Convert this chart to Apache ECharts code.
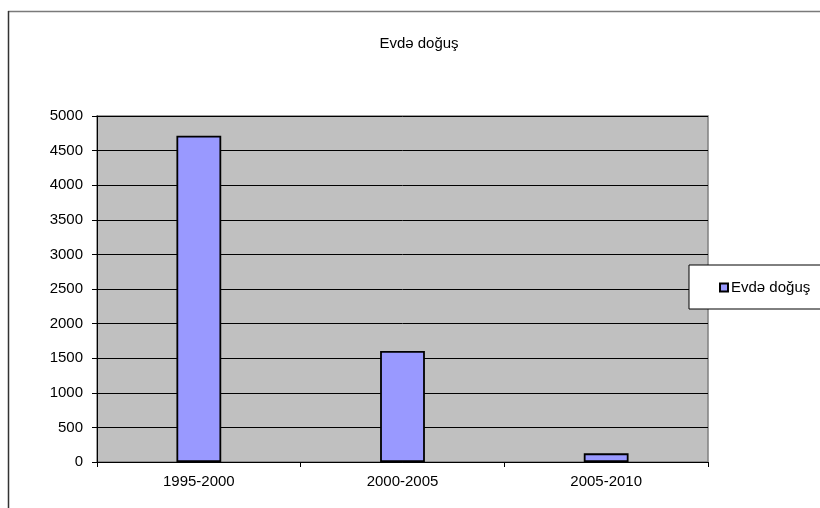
<!DOCTYPE html>
<html>
<head>
<meta charset="utf-8">
<style>
  html, body { margin: 0; padding: 0; background: #ffffff; }
  #chart { width: 820px; height: 508px; }
</style>
<script src="https://cdn.jsdelivr.net/npm/echarts@6/dist/echarts.min.js"></script>
</head>
<body>
<div id="chart"></div>
<script>
// Home births by period
var categories = ['1995-2000', '2000-2005', '2005-2010'];
var homeBirths = [4715, 1605, 125];
var seriesName = 'Evdə doğuş';
var chartTitle = 'Evdə doğuş';

var FONT = '"Liberation Sans", Arial, sans-serif';

var chart = echarts.init(document.getElementById('chart'), null, { renderer: 'canvas' });

chart.setOption({
  animation: false,
  backgroundColor: '#ffffff',
  textStyle: { fontFamily: FONT, color: '#000' },
  title: {
    text: chartTitle,
    left: 414,
    textAlign: 'center',
    top: 31,
    textStyle: { fontSize: 15, fontWeight: 'normal', color: '#000', fontFamily: FONT }
  },
  graphic: [
    { type: 'line', shape: { x1: 8, y1: 11.5, x2: 830, y2: 11.5 }, style: { stroke: '#7a7a7a', lineWidth: 1.5 }, silent: true },
    { type: 'line', shape: { x1: 8.5, y1: 11, x2: 8.5, y2: 520 }, style: { stroke: '#333333', lineWidth: 1.5 }, silent: true }
  ],
  legend: {
    orient: 'vertical',
    left: 689,
    top: 265,
    padding: [15, 60, 14, 30],
    backgroundColor: '#ffffff',
    borderColor: '#000000',
    borderWidth: 1,
    itemWidth: 8,
    itemHeight: 8,
    itemGap: 4,
    icon: 'rect',
    textStyle: { fontSize: 15, color: '#000', fontFamily: FONT, padding: [0, 0, 0, -2] },
    data: [seriesName]
  },
  grid: {
    left: 97,
    top: 116,
    right: 112,
    bottom: 46,
    show: true,
    backgroundColor: '#C0C0C0',
    borderColor: '#808080',
    borderWidth: 1.5
  },
  xAxis: {
    type: 'category',
    data: categories,
    boundaryGap: true,
    axisLine: { show: true, lineStyle: { color: '#000', width: 1 } },
    axisTick: { show: true, alignWithLabel: false, length: 5, lineStyle: { color: '#000' } },
    axisLabel: { margin: 12, fontSize: 15, color: '#000', fontFamily: FONT },
    splitLine: { show: false }
  },
  yAxis: {
    type: 'value',
    min: 0,
    max: 5000,
    interval: 500,
    axisLine: { show: true, lineStyle: { color: '#000', width: 1 } },
    axisTick: { show: true, length: 5, lineStyle: { color: '#000' } },
    axisLabel: {
      margin: 14, fontSize: 15, color: '#000', fontFamily: FONT,
      formatter: function (v) { return String(v); }
    },
    splitLine: { show: true, lineStyle: { color: '#000', width: 1 } }
  },
  series: [{
    name: seriesName,
    type: 'bar',
    data: homeBirths,
    barWidth: '22%',
    itemStyle: { color: '#9999FF', borderColor: '#000000', borderWidth: 1.8 }
  }]
});
</script>
</body>
</html>
